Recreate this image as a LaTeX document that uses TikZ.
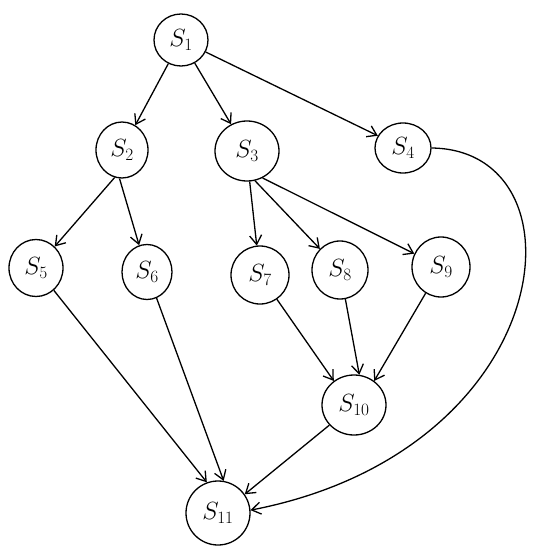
\documentclass[tikz,border=0pt]{standalone}
\usetikzlibrary{shapes.geometric,arrows.meta}
\begin{document}
\begin{tikzpicture}[x=1pt,y=-1pt,
  st/.style={draw,ellipse,line width=1.3pt,minimum width=54pt,minimum height=52pt,inner sep=0pt,font=\fontsize{26}{30}\selectfont},
  ed/.style={draw,line width=1.3pt,-{Straight Barb[length=9pt,width=12pt]}}]
\useasboundingbox (0,0) rectangle (544,551);
\node[st] (s1) at (181,40) {$S_1$};
\node[st,minimum width=52pt,minimum height=56pt] (s2) at (122,150) {$S_2$};
\node[st,minimum width=64pt,minimum height=60pt] (s3) at (247,151) {$S_3$};
\node[st,minimum width=56pt,minimum height=50pt] (s4) at (403,148) {$S_4$};
\node[st,minimum height=57pt] (s5) at (36,268) {$S_5$};
\node[st,minimum width=50pt,minimum height=55pt] (s6) at (147,272) {$S_6$};
\node[st,minimum width=58pt,minimum height=58pt] (s7) at (260,275) {$S_7$};
\node[st,minimum width=56pt,minimum height=58pt] (s8) at (340,270) {$S_8$};
\node[st,minimum width=58pt,minimum height=60pt] (s9) at (441,267) {$S_9$};
\node[st,minimum width=64pt,minimum height=60pt] (s10) at (354,405) {$S_{10}$};
\node[st,minimum width=64pt,minimum height=64pt] (s11) at (218,513) {$S_{11}$};
\draw[ed] (s1) -- (s2);
\draw[ed] (s1) -- (s3);
\draw[ed] (s1) -- (s4);
\draw[ed] (s2.-105) -- (s5);
\draw[ed] (s2.-95) -- (s6);
\draw[ed] (s3.-85) -- (s7);
\draw[ed] (s3.-75) -- (s8);
\draw[ed] (s3.-60) -- (s9);
\draw[ed] (s5) -- (s11.110);
\draw[ed] (s6) -- (s11.80);
\draw[ed] (s7) -- (s10.130);
\draw[ed] (s8) -- (s10.80);
\draw[ed] (s9) -- (s10.50);
\draw[ed] (s10) -- (s11.35);
\draw[ed] (s4.east) .. controls (590,150) and (560,450) .. (s11.5);
\end{tikzpicture}
\end{document}
